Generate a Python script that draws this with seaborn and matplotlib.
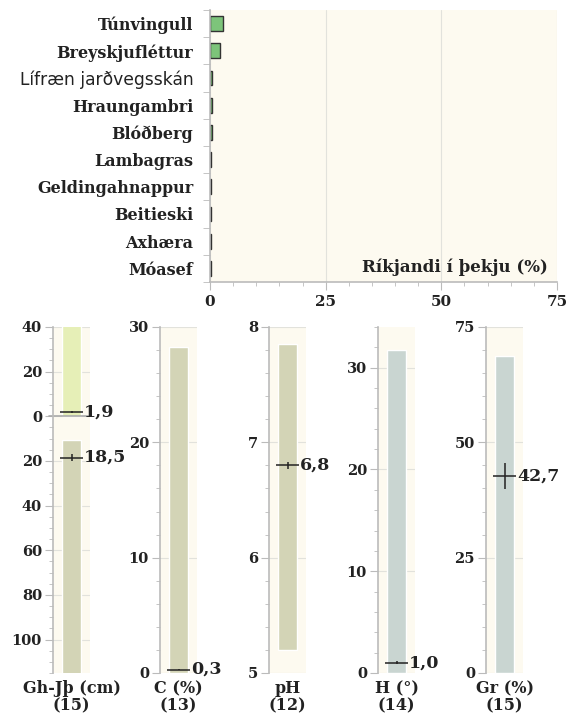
import numpy as np
import pandas as pd
import matplotlib.pyplot as plt
from matplotlib.ticker import MultipleLocator, FuncFormatter
import seaborn as sns

# ríkjandi tegundir
species = ['Túnvingull', 'Breyskjufléttur', 'Lífræn jarðvegsskán', 'Hraungambri',
           'Blóðberg', 'Lambagras', 'Geldingahnappur', 'Beitieski', 'Axhæra', 'Móasef']
cover = [2.9, 2.2, 0.5, 0.4, 0.35, 0.3, 0.15, 0.12, 0.12, 0.12]

# gróðurhæð (upp) og jarðvegsþykkt (niður), cm
gh_range = [0, 45]
gh_mid = 1.9
gh_err = 0.4
jth_range = [10.5, 120]
jth_mid = 18.5
jth_err = 1.5
gh_n = 15

# aðrar breytur
var_names = ['C (%)', 'pH', 'H (°)', 'Gr (%)']
var_n = [13, 12, 14, 15]
var_min = [0.0, 5.2, 0.0, 0.0]
var_max = [28.3, 7.85, 31.7, 68.8]
var_mid = [0.3, 6.8, 1.0, 42.7]
var_err = [0.05, 0.03, 0.15, 2.9]

sns.set_style('white')
plt.rcParams['font.family'] = ['DejaVu Serif', 'DejaVu Sans']
plt.rcParams['font.weight'] = 'bold'
plt.rcParams['axes.labelweight'] = 'bold'

bg = '#fdfaf0'
spine = '#bbbbbb'
grid = '#e2e2dc'
txt = '#222222'

fig = plt.figure(figsize=(5.68, 7.2), dpi=100)

# ---- efri mynd
ax = fig.add_axes([210/568, 1-282/720, 347/568, 272/720])
ax.set_facecolor(bg)
df = pd.DataFrame({'tegund': species, 'thekja': cover})
sns.barplot(data=df, x='thekja', y='tegund', orient='h', color='#7dc47a',
            edgecolor='#333333', linewidth=1, width=0.55, saturation=1, ax=ax)
ax.set_xlim(0, 75)
ax.set_ylim(9.5, -0.5)
ax.xaxis.set_major_locator(MultipleLocator(25))
ax.xaxis.set_minor_locator(MultipleLocator(5))
ax.grid(axis='x', color=grid, lw=0.8)
ax.set_axisbelow(True)
for s in ['top', 'right']:
    ax.spines[s].set_visible(False)
for s in ['left', 'bottom']:
    ax.spines[s].set_color(spine)
    ax.spines[s].set_linewidth(1.2)
ax.set_yticks(range(len(species)))
ax.set_yticks(np.arange(-0.5, len(species)), minor=True)
ax.tick_params(axis='y', which='major', length=0, pad=12, labelsize=11.5, labelcolor=txt)
ax.tick_params(axis='y', which='minor', length=5, color=spine, left=True)
ax.tick_params(axis='x', which='major', length=6, color=spine, labelsize=11,
               labelcolor=txt, bottom=True)
ax.tick_params(axis='x', which='minor', length=3, color=spine, bottom=True)
for lbl in ax.get_yticklabels():
    if 'Lífræn' in lbl.get_text():
        lbl.set_family('DejaVu Sans')
        lbl.set_fontweight('normal')
        lbl.set_fontsize(12.3)
ax.set_xlabel('')
ax.set_ylabel('')
ax.text(0.974, 0.055, 'Ríkjandi í þekju (%)', transform=ax.transAxes,
        ha='right', va='center', fontsize=12, color=txt)

# ---- neðri myndir
lefts = [53, 160, 269, 378, 486]
w = 37/568
bot = 1-673/720
h = 346/720


def style_panel(a, label):
    a.set_facecolor(bg)
    a.set_xlim(-0.5, 0.5)
    a.set_xticks([])
    for s in ['top', 'right', 'bottom']:
        a.spines[s].set_visible(False)
    a.spines['left'].set_color(spine)
    a.spines['left'].set_linewidth(1.2)
    a.grid(axis='y', which='major', color=grid, lw=0.8)
    a.set_axisbelow(True)
    a.tick_params(axis='y', which='major', length=6, color=spine, labelsize=10.5,
                  labelcolor=txt, left=True, pad=2)
    a.tick_params(axis='y', which='minor', length=3, color=spine, left=True)
    a.set_xlabel(label, fontsize=11.5, color=txt, labelpad=5, linespacing=1.05)


def marker(a, y, err, fmt):
    a.plot([-0.31, 0.31], [y, y], color='#222222', lw=1.1, solid_capstyle='butt')
    a.plot([0, 0], [y-err, y+err], color='#222222', lw=1.1, solid_capstyle='butt')
    a.text(0.34, y, fmt, ha='left', va='center', fontsize=12.5, color=txt, clip_on=False)


def fmt_num(v):
    return f'{v:.1f}'.replace('.', ',')


# Gh-Jþ
a = fig.add_axes([lefts[0]/568, bot, w, h])
style_panel(a, f'Gh-Jþ (cm)\n({gh_n})')
a.bar(0, gh_range[1]-gh_range[0], bottom=gh_range[0], width=0.51, color='#e6efb7')
a.bar(0, -(jth_range[1]-jth_range[0]), bottom=-jth_range[0], width=0.51, color='#d3d4b6')
a.axhline(0, color='#aaaaaa', lw=1.2, xmin=-0.1, clip_on=False)
a.set_ylim(-115, 40)
a.yaxis.set_major_locator(MultipleLocator(20))
a.yaxis.set_minor_locator(MultipleLocator(5))
a.yaxis.set_major_formatter(FuncFormatter(lambda v, p: f'{abs(v):.0f}'))
marker(a, gh_mid, gh_err, fmt_num(gh_mid))
marker(a, -jth_mid, jth_err, fmt_num(jth_mid))

lims = [(0, 30), (5, 8), (0, 34), (0, 75)]
majors = [10, 1, 10, 25]
minors = [2, 0.2, 2, 5]
colors = ['#d3d4b6', '#d3d4b6', '#c9d5d1', '#c9d5d1']
for i in range(4):
    a = fig.add_axes([lefts[i+1]/568, bot, w, h])
    style_panel(a, f'{var_names[i]}\n({var_n[i]})')
    a.bar(0, var_max[i]-var_min[i], bottom=var_min[i], width=0.51, color=colors[i])
    a.set_ylim(*lims[i])
    a.yaxis.set_major_locator(MultipleLocator(majors[i]))
    a.yaxis.set_minor_locator(MultipleLocator(minors[i]))
    marker(a, var_mid[i], var_err[i], fmt_num(var_mid[i]))

fig.savefig('out.png', dpi=100, facecolor='white')
